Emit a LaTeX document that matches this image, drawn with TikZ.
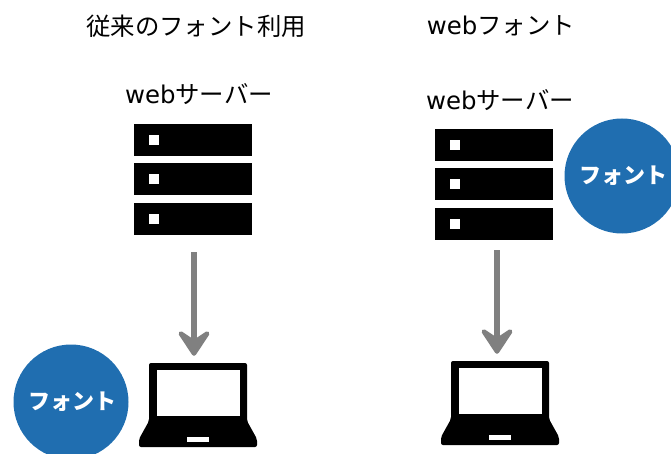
\documentclass[tikz,border=0pt]{standalone}
\usepackage{fontspec}
\setmainfont{Noto Sans CJK JP}
\newfontfamily\latinf{DejaVu Sans}
\usetikzlibrary{arrows.meta}
\definecolor{fontblue}{RGB}{32,110,176}
\definecolor{arrowgray}{RGB}{128,128,128}
\tikzset{
  x=1pt,y=-1pt,
  lab/.style={font=\fontsize{24.4}{28}\selectfont,text=black,inner sep=0pt,anchor=center},
  fontcircle/.style={circle,fill=fontblue,text=white,inner sep=0pt,minimum size=115pt,font=\fontsize{22}{26}\selectfont\bfseries},
  rack/.style={fill=black,draw=none},
  led/.style={fill=white,draw=none},
  serverbox/.style={inner sep=0pt,minimum width=118pt,minimum height=111pt},
  laptopbox/.style={inner sep=0pt,minimum width=118pt,minimum height=84pt},
  flow/.style={draw=arrowgray,line width=6.5pt,-{Stealth[length=32pt,width=42pt,inset=14pt,round]}},
}
\newcommand{\serverrack}[2]{%
  \foreach \dy in {0,39.5,79}{%
    \fill[rack] (#1,#2+\dy) rectangle (#1+118,#2+\dy+32);
    \fill[led] (#1+15,#2+\dy+11) rectangle (#1+25,#2+\dy+21);
  }}
\newcommand{\laptopicon}[2]{%
  \fill[black,rounded corners=2pt] (#1+10,#2) -- (#1+108,#2) -- (#1+108,#2+58) -- (#1+118,#2+76) -- (#1+118,#2+84) -- (#1,#2+84) -- (#1,#2+76) -- (#1+10,#2+58) -- cycle;
  \fill[white] (#1+18,#2+7) rectangle (#1+101,#2+53);
  \fill[white] (#1+48,#2+74) rectangle (#1+70,#2+79);
}
\begin{document}
\begin{tikzpicture}
\useasboundingbox (0,0) rectangle (671,454);
\node[lab] (t1) at (196,26) {従来のフォント利用};
\node[lab] (t2) at (501,26) {{\latinf web}フォント};
\node[lab] (w1) at (199,94) {{\latinf web}サーバー};
\node[lab] (w2) at (500,100) {{\latinf web}サーバー};
\serverrack{134}{124}
\serverrack{435}{129}
\laptopicon{139}{363}
\laptopicon{441}{361}
\node[serverbox] (s1) at (193,179.5) {};
\node[serverbox] (s2) at (494,184.5) {};
\node[laptopbox] (l1) at (198,405) {};
\node[laptopbox] (l2) at (500,403) {};
\draw[flow] ([xshift=1pt,yshift=-17pt]s1.south) -- ([xshift=-4pt,yshift=7pt]l1.north);
\draw[flow] ([xshift=3pt,yshift=-10pt]s2.south) -- ([xshift=-3pt,yshift=7pt]l2.north);
\node[fontcircle] (c1) at (71,402) {\hspace{2pt}フォント};
\node[fontcircle] (c2) at (622,176) {\hspace{3pt}フォント};
\end{tikzpicture}
\end{document}
